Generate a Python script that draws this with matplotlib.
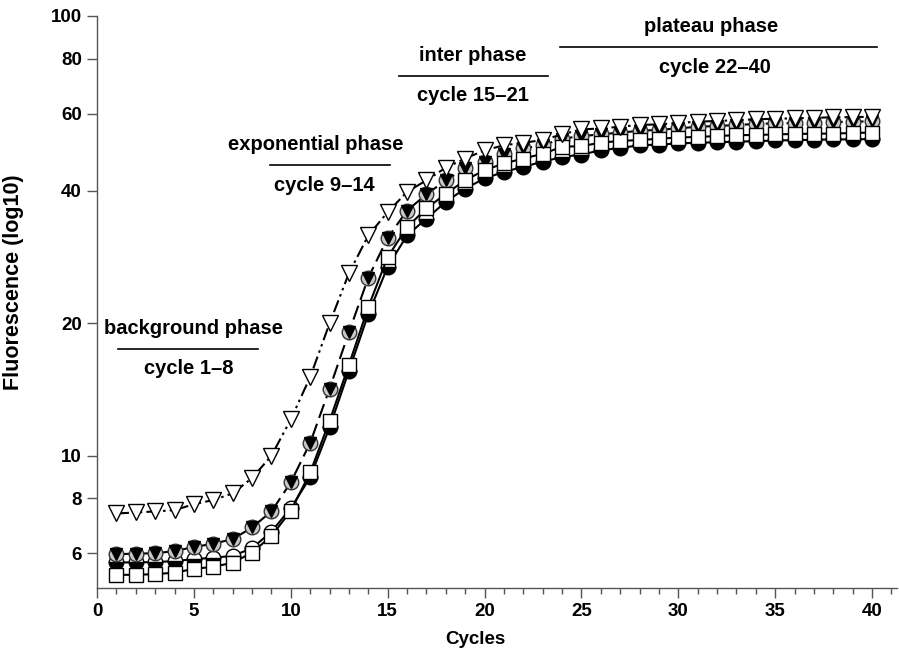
import matplotlib
matplotlib.use("Agg")
import matplotlib.pyplot as plt
from matplotlib.ticker import FixedLocator, NullLocator, MultipleLocator

plt.rcParams['font.family'] = ['Liberation Sans', 'DejaVu Sans']

cycles = list(range(1, 41))

# open down-triangles, dash-dot-dot line
series_a = [7.39, 7.43, 7.47, 7.52, 7.76, 7.93, 8.21, 8.90, 10.0, 12.1,
            15.1, 20.0, 26.0, 31.7, 35.8, 39.8, 42.3, 45.2, 47.4, 49.5,
            50.8, 51.5, 52.2, 53.8, 55.2, 55.5, 56.0, 56.5, 56.7, 57.1,
            57.5, 57.7, 57.95, 58.2, 58.4, 58.5, 58.7, 58.8, 58.9, 59.0]
# circle with black triangle, dashed line
series_b = [5.97, 5.99, 6.00, 6.07, 6.20, 6.31, 6.46, 6.87, 7.47, 8.70,
            10.7, 14.2, 19.1, 25.4, 31.3, 36.1, 39.3, 42.3, 45.0, 46.6,
            48.6, 50.0, 50.8, 52.6, 53.3, 53.8, 54.3, 54.8, 55.1, 55.5,
            56.0, 56.2, 56.5, 56.8, 57.0, 57.1, 57.2, 57.4, 57.5, 57.6]
# half-filled circles, solid line
series_c = [5.72, 5.72, 5.73, 5.76, 5.82, 5.86, 5.92, 6.16, 6.72, 7.60,
            8.93, 11.6, 15.6, 21.0, 26.9, 31.7, 34.6, 37.8, 40.5, 42.7,
            44.2, 45.4, 46.6, 47.8, 48.4, 49.5, 50.1, 50.8, 51.0, 51.3,
            51.5, 51.6, 51.8, 51.9, 52.1, 52.2, 52.3, 52.4, 52.4, 52.5]
# open squares, solid line
series_d = [5.36, 5.36, 5.38, 5.42, 5.53, 5.59, 5.71, 6.02, 6.57, 7.49,
            9.16, 12.0, 16.1, 21.8, 28.3, 33.1, 36.5, 39.4, 42.3, 44.6,
            46.2, 47.4, 48.6, 50.4, 50.6, 51.5, 52.0, 52.2, 52.6, 52.9,
            53.1, 53.3, 53.6, 53.6, 53.8, 53.9, 54.0, 54.0, 54.2, 54.3]

y_ticks = [6, 8, 10, 20, 40, 60, 80, 100]
x_ticks = [0, 5, 10, 15, 20, 25, 30, 35, 40]

phase_names = ["background phase", "exponential phase", "inter phase", "plateau phase"]
phase_ranges = ["cycle 1\u20138", "cycle 9\u201314", "cycle 15\u201321", "cycle 22\u201340"]
phase_x0 = [1.07, 8.92, 15.6, 23.9]
phase_x1 = [8.3, 15.1, 23.3, 40.25]
phase_y = [17.5, 45.8, 73.0, 84.9]
name_x = [5.0, 11.3, 19.4, 31.7]
range_x = [4.75, 11.75, 19.4, 31.9]

fig = plt.figure(figsize=(8.99, 6.52), dpi=100)
ax = fig.add_axes([0.108, 0.098, 0.890, 0.8775])

lw = 1.5
ax.plot(cycles, series_c, color='black', lw=lw, ls='-', marker='o', markersize=10.5,
        fillstyle='bottom', markerfacecolor='black', markerfacecoloralt='white',
        markeredgecolor='black', markeredgewidth=1.0, zorder=2)
ax.plot(cycles, series_b, color='black', lw=lw, dashes=[7, 3], marker='o', markersize=10.5,
        markerfacecolor='#c8c8c8', markeredgecolor='#333333', markeredgewidth=1.0, zorder=3)
ax.plot(cycles, series_b, ls='none', marker='v', markersize=8,
        markerfacecolor='black', markeredgecolor='black', zorder=3.1)
ax.plot(cycles, series_d, color='black', lw=lw, ls='-', marker='s', markersize=10,
        markerfacecolor='white', markeredgecolor='black', markeredgewidth=1.0, zorder=4)
ax.plot(cycles, series_a, color='black', lw=lw, dashes=[6, 2, 1.2, 2, 1.2, 2], marker='v',
        markersize=11, markerfacecolor='white', markeredgecolor='black',
        markeredgewidth=1.0, zorder=5)

ax.set_yscale('log')
ax.set_ylim(5.0, 100)
ax.set_xlim(0, 41.3)
ax.yaxis.set_major_locator(FixedLocator(y_ticks))
ax.yaxis.set_minor_locator(NullLocator())
ax.set_yticklabels([str(t) for t in y_ticks])
ax.xaxis.set_major_locator(FixedLocator(x_ticks))
ax.xaxis.set_minor_locator(MultipleLocator(1))

for s in ['top', 'right']:
    ax.spines[s].set_visible(False)
for s in ['left', 'bottom']:
    ax.spines[s].set_color('#555555')
    ax.spines[s].set_linewidth(1.0)
ax.tick_params(axis='both', which='major', direction='out', length=7, width=1.0,
               color='#555555', labelsize=13.5, pad=4)
ax.tick_params(axis='x', which='minor', direction='out', length=4, width=1.0, color='#555555')
for lab in ax.get_xticklabels() + ax.get_yticklabels():
    lab.set_fontweight('bold')

ax.set_xlabel('Cycles', fontsize=13.5, fontweight='bold')
ax.xaxis.set_label_coords(0.4725, -0.075)
ax.set_ylabel('Fluorescence (log10)', fontsize=15.5, fontweight='bold')
ax.yaxis.set_label_coords(-0.091, 0.535)

for name, rng, x0, x1, y, nx, rx in zip(phase_names, phase_ranges, phase_x0, phase_x1,
                                          phase_y, name_x, range_x):
    ax.plot([x0, x1], [y, y], color='black', lw=1.2, clip_on=False, zorder=6)
    ax.annotate(name, xy=(nx, y), xytext=(0, 8), textcoords='offset points',
                ha='center', va='bottom', fontsize=14.5, fontweight='bold', annotation_clip=False)
    ax.annotate(rng, xy=(rx, y), xytext=(0, -7.5), textcoords='offset points',
                ha='center', va='top', fontsize=14.5, fontweight='bold', annotation_clip=False)

fig.savefig('out.png', dpi=100)
